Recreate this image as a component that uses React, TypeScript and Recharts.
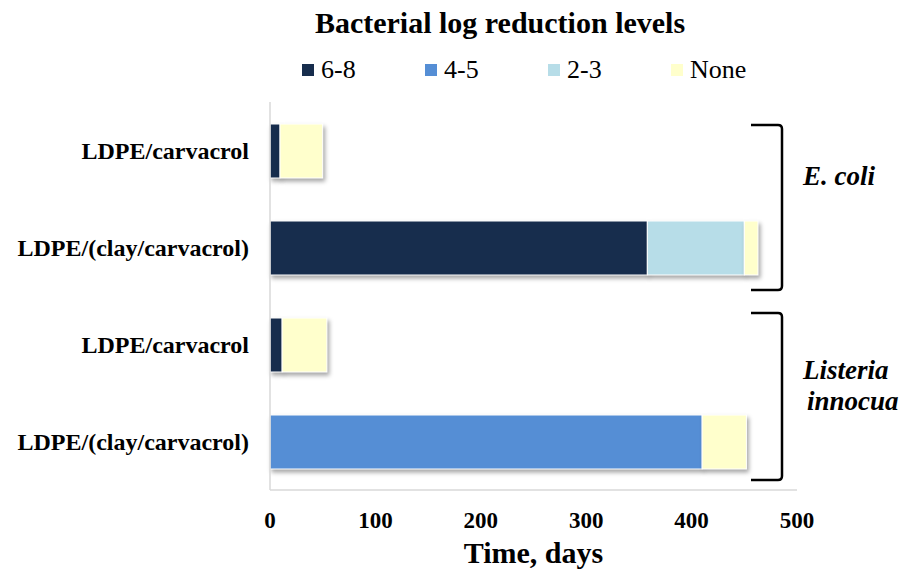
import React from "react";
import { BarChart, Bar, XAxis, YAxis } from "recharts";

const categories = ["ecoli-ldpe", "ecoli-clay", "listeria-ldpe", "listeria-clay"];
const categoryLabels = [
  "LDPE/carvacrol",
  "LDPE/(clay/carvacrol)",
  "LDPE/carvacrol",
  "LDPE/(clay/carvacrol)",
];
const levels = ["6-8", "4-5", "2-3", "None"];
const level68 = [9.5, 358, 11.5, 0];
const level45 = [0, 0, 0, 410];
const level23 = [0, 92, 0, 0];
const levelNone = [40.5, 13, 42.5, 42];
const xTicks = [0, 100, 200, 300, 400, 500];

const colors = ["#172d4d", "#558ed5", "#b7dde8", "#ffffcc"];
const seriesKeys = ["l68", "l45", "l23", "none"];

const data = categories.map((id, i) => ({
  id,
  l68: level68[i],
  l45: level45[i],
  l23: level23[i],
  none: levelNone[i],
}));

const W = 913;
const H = 572;
const PLOT_LEFT = 270;
const PLOT_RIGHT = 797;
const PLOT_TOP = 102;
const PLOT_BOTTOM = 490;
const BAND = (PLOT_BOTTOM - PLOT_TOP) / categories.length;

const serif = "'Liberation Serif', 'Times New Roman', serif";

const ShadowRect = (props: any) => {
  const { x, y, width, height, fill } = props;
  if (!width || width <= 0) return null;
  return (
    <rect
      x={x}
      y={y}
      width={width}
      height={height}
      fill={fill}
      stroke="#ffffff"
      strokeWidth={1}
      style={{ filter: "drop-shadow(2px 3px 2px rgba(0,0,0,0.35))" }}
    />
  );
};

function ChartLegend() {
  return (
    <div
      style={{
        position: "absolute",
        top: 55,
        left: 302,
        display: "flex",
        fontFamily: serif,
        fontSize: 26,
        color: "#000",
      }}
    >
      {levels.map((name, i) => (
        <div key={name} style={{ display: "flex", alignItems: "center", width: 123 }}>
          <span
            style={{
              display: "inline-block",
              width: 12,
              height: 12,
              background: colors[i],
              marginRight: 7,
            }}
          />
          <span style={{ fontFamily: serif, lineHeight: "30px" }}>{name}</span>
        </div>
      ))}
    </div>
  );
}

function Bracket({ top, bottom }: { top: number; bottom: number }) {
  const xr = 782;
  const xl = 751;
  const r = 4;
  return (
    <path
      d={`M${xl},${top} L${xr - r},${top} Q${xr},${top} ${xr},${top + r} L${xr},${bottom - r} Q${xr},${bottom} ${xr - r},${bottom} L${xl},${bottom}`}
      fill="none"
      stroke="#000"
      strokeWidth={2.5}
    />
  );
}

export default function App() {
  return (
    <div style={{ position: "absolute", left: 0, top: 0, width: W, height: H, background: "#fff" }}>
      <div
        style={{
          position: "absolute",
          left: 0,
          width: 1000,
          top: 6,
          textAlign: "center",
          fontFamily: serif,
          fontWeight: "bold",
          fontSize: 30,
          lineHeight: "34px",
        }}
      >
        Bacterial log reduction levels
      </div>
      <ChartLegend />
      <BarChart
        width={W}
        height={H}
        data={data}
        layout="vertical"
        margin={{ top: PLOT_TOP, right: W - PLOT_RIGHT, bottom: H - PLOT_BOTTOM - 73, left: 0 }}
        barSize={54}
      >
        <XAxis
          type="number"
          domain={[0, 500]}
          ticks={xTicks}
          height={73}
          axisLine={{ stroke: "#d9d9d9", strokeWidth: 1.5 }}
          tickLine={false}
          tickMargin={16}
          tick={{ fontFamily: serif, fontWeight: "bold", fontSize: 23, fill: "#000" }}
          label={{
            value: "Time, days",
            position: "insideBottom",
            offset: 0,
            style: { fontFamily: serif, fontWeight: "bold", fontSize: 30, fill: "#000" },
          }}
        />
        <YAxis
          type="category"
          dataKey="id"
          width={PLOT_LEFT}
          axisLine={{ stroke: "#d9d9d9", strokeWidth: 1.5 }}
          tickLine={false}
          tickMargin={15}
          tickFormatter={(v: string) => categoryLabels[categories.indexOf(v)]}
          tick={{ fontFamily: serif, fontWeight: "bold", fontSize: 24, fill: "#000" }}
        />
        {seriesKeys.map((k, i) => (
          <Bar
            key={k}
            dataKey={k}
            name={levels[i]}
            stackId="a"
            fill={colors[i]}
            shape={<ShadowRect />}
            isAnimationActive={false}
          />
        ))}
      </BarChart>
      <svg
        width={W}
        height={H}
        style={{ position: "absolute", left: 0, top: 0, pointerEvents: "none" }}
      >
        <Bracket top={PLOT_TOP + 23} bottom={PLOT_TOP + 2 * BAND - 6} />
        <Bracket top={PLOT_TOP + 2 * BAND + 17} bottom={PLOT_TOP + 4 * BAND - 10} />
        <g fontFamily={serif} fontWeight="bold" fontStyle="italic" fontSize={27} fill="#000">
          <text x={803} y={185}>E. coli</text>
          <text x={803} y={379}>Listeria</text>
          <text x={807} y={410}>innocua</text>
        </g>
      </svg>
    </div>
  );
}
